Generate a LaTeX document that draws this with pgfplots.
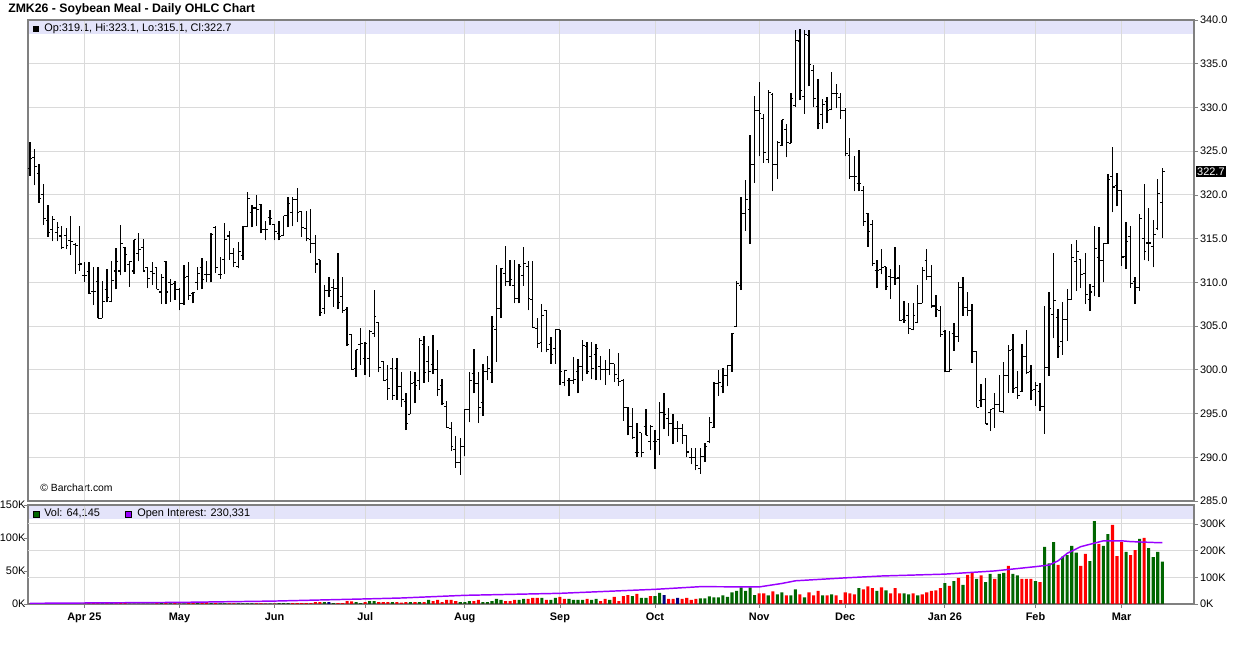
\documentclass[border=0pt]{standalone}
\usepackage{pgfplots}
\pgfplotsset{compat=1.18}
\usepackage{pgfplotstable}
\usepackage{fontspec}
\setmainfont{Liberation Sans}
\definecolor{volgreen}{RGB}{0,102,0}
\definecolor{volred}{RGB}{255,0,0}
\definecolor{volnavy}{RGB}{0,0,128}
\definecolor{oipurple}{RGB}{153,0,255}
\definecolor{stripc}{RGB}{228,228,250}
\definecolor{gridc}{RGB}{218,218,218}
\definecolor{framec}{RGB}{128,128,128}
\pgfdeclareplotmark{otick}{\pgfpathmoveto{\pgfqpoint{-1.7pt}{0pt}}\pgfpathlineto{\pgfqpoint{0pt}{0pt}}\pgfusepathqstroke}
\pgfdeclareplotmark{ctick}{\pgfpathmoveto{\pgfqpoint{0pt}{0pt}}\pgfpathlineto{\pgfqpoint{1.7pt}{0pt}}\pgfusepathqstroke}

\pgfplotstableread{
i o h l c
0 323.0 326.1 322.2 324.2
1 324.3 325.3 321.1 323.3
2 322.4 323.5 319.1 319.6
3 320.0 321.3 316.6 317.3
4 317.1 318.8 315.2 315.7
5 316.0 317.6 314.7 317.2
6 315.7 316.9 314.7 316.3
7 315.3 316.4 313.8 314.0
8 315.4 316.2 313.8 314.2
9 314.8 317.6 313.1 314.7
10 314.3 314.5 311.0 314.2
11 312.0 316.4 311.3 312.1
12 310.8 312.3 310.0 310.8
13 311.2 312.3 308.7 308.7
14 309.0 311.8 307.4 309.0
15 310.1 311.8 305.9 305.9
16 305.9 310.1 305.9 307.8
17 309.2 311.5 307.7 308.3
18 307.8 312.4 307.7 310.2
19 311.3 313.9 309.2 312.4
20 311.3 316.6 310.8 314.4
21 314.0 314.0 311.2 313.2
22 312.0 312.4 309.5 312.4
23 311.3 314.9 311.0 314.9
24 313.3 315.7 312.4 313.8
25 314.0 315.0 311.3 311.3
26 311.7 311.8 309.3 310.4
27 311.2 312.3 309.7 311.0
28 311.7 311.8 309.2 309.2
29 308.9 311.0 307.5 310.6
30 312.4 312.4 307.5 308.9
31 310.0 310.4 307.8 309.8
32 309.9 310.1 308.0 309.2
33 309.2 309.3 306.8 307.6
34 307.6 312.0 307.4 310.6
35 310.7 312.3 308.0 308.5
36 308.7 308.9 307.6 308.8
37 310.0 311.8 309.1 311.0
38 311.7 312.8 309.2 310.3
39 310.9 312.4 310.0 310.9
40 310.9 315.6 310.0 315.5
41 316.3 316.5 311.1 311.7
42 310.9 312.9 310.4 310.9
43 312.6 316.8 311.0 314.9
44 315.3 315.9 312.6 313.3
45 313.3 313.9 311.7 312.3
46 311.8 314.6 311.6 313.5
47 313.1 316.4 312.6 316.4
48 316.4 320.3 316.3 319.6
49 318.0 318.9 316.3 318.5
50 318.5 320.0 316.5 318.3
51 318.9 319.0 315.6 316.0
52 316.0 317.0 314.8 316.0
53 317.4 318.3 316.6 317.3
54 316.6 316.7 314.8 315.8
55 315.6 317.0 314.8 315.2
56 315.4 317.6 315.4 317.6
57 317.6 319.8 316.3 319.0
58 318.0 319.8 316.4 319.5
59 319.5 320.8 316.9 318.0
60 318.1 318.2 315.2 316.3
61 316.2 318.2 314.7 315.0
62 314.9 318.4 313.3 314.4
63 314.4 315.4 311.1 312.1
64 312.6 312.6 306.2 306.6
65 307.0 309.7 306.4 309.1
66 309.1 310.6 308.3 309.1
67 309.4 310.4 307.2 309.3
68 309.3 313.4 306.9 307.7
69 308.4 310.6 306.5 306.8
70 306.9 307.2 302.7 302.9
71 304.0 304.0 300.0 300.0
72 300.1 302.3 299.2 302.3
73 302.9 304.8 300.6 303.0
74 301.3 303.2 299.4 303.0
75 301.3 304.6 299.2 304.4
76 304.1 309.1 303.8 306.1
77 305.4 305.4 299.7 300.3
78 300.9 301.0 298.7 298.8
79 298.9 300.5 296.6 297.9
80 300.2 301.3 296.6 297.1
81 300.2 301.3 296.6 298.1
82 298.1 299.8 295.8 296.6
83 296.4 297.4 293.1 293.9
84 294.9 299.9 294.9 298.4
85 298.6 299.7 296.2 298.2
86 298.8 303.6 297.7 303.3
87 302.9 303.9 298.5 299.7
88 301.0 302.7 298.6 299.8
89 300.6 304.0 299.5 300.0
90 300.0 302.3 297.0 297.7
91 298.2 298.9 296.0 296.1
92 295.8 296.4 293.4 293.4
93 293.3 294.0 290.7 291.2
94 290.9 292.4 288.8 289.4
95 289.4 292.2 288.0 291.2
96 291.2 295.5 290.1 295.5
97 295.5 299.7 294.0 298.8
98 299.6 302.4 297.3 298.4
99 298.4 299.8 293.9 295.7
100 296.3 300.7 294.7 299.8
101 299.8 301.6 298.8 300.2
102 299.7 306.2 298.5 304.9
103 304.6 312.0 300.9 307.0
104 307.0 311.6 305.9 311.6
105 311.0 314.2 309.6 310.1
106 310.1 312.5 309.6 310.3
107 309.6 312.5 307.6 308.2
108 308.2 312.1 307.6 311.8
109 310.8 314.0 309.6 312.2
110 311.8 312.4 306.8 308.2
111 308.0 312.4 304.8 304.8
112 304.7 305.9 302.5 303.0
113 303.1 307.5 302.0 306.2
114 306.8 306.8 302.0 302.3
115 302.9 303.7 300.7 301.7
116 302.4 304.6 300.7 304.6
117 304.6 304.6 298.3 299.8
118 298.6 300.0 298.1 299.9
119 298.8 299.1 297.0 298.8
120 298.8 301.5 298.4 298.9
121 299.8 301.2 297.3 300.4
122 300.4 303.4 298.7 302.8
123 302.7 303.2 299.5 299.8
124 301.5 303.2 298.9 300.2
125 301.8 302.9 298.8 302.4
126 300.4 301.6 298.8 300.0
127 300.0 301.1 298.3 300.0
128 300.0 302.4 299.4 300.7
129 300.7 300.7 298.6 299.5
130 299.0 301.9 298.2 298.7
131 298.8 298.9 294.2 295.7
132 295.7 295.8 292.5 293.5
133 293.5 295.6 292.1 292.3
134 290.5 293.9 290.0 290.5
135 292.8 292.8 290.0 290.5
136 293.5 295.5 292.5 292.5
137 291.8 293.7 290.8 293.5
138 291.8 293.1 288.7 291.8
139 292.0 296.3 290.3 295.1
140 295.1 297.4 293.2 294.9
141 294.4 295.6 292.4 293.9
142 293.9 294.9 291.5 293.3
143 293.3 294.2 291.8 293.3
144 293.3 293.8 291.5 292.5
145 292.5 292.5 290.0 290.6
146 290.0 291.1 289.2 290.0
147 290.0 291.1 288.5 289.1
148 288.7 291.1 288.1 290.1
149 290.1 291.6 289.5 291.2
150 291.8 294.6 291.6 294.0
151 293.4 298.6 293.4 298.4
152 298.4 300.0 297.0 298.5
153 298.1 300.2 297.3 299.4
154 299.4 300.5 298.1 300.5
155 300.5 304.2 299.8 304.2
156 305.0 310.1 305.0 309.9
157 309.6 319.8 309.1 317.9
158 317.9 321.7 315.9 319.5
159 318.3 326.8 314.4 323.5
160 323.5 331.3 321.4 329.6
161 329.6 332.9 324.4 329.3
162 328.7 329.3 323.7 324.9
163 324.1 332.0 323.6 331.7
164 331.5 331.6 320.4 323.5
165 323.5 326.2 321.8 326.0
166 325.6 328.6 325.6 328.6
167 327.5 328.1 324.3 326.0
168 325.9 331.7 325.9 331.0
169 330.2 338.8 330.1 337.7
170 337.6 339.0 330.8 331.9
171 331.3 338.9 329.3 338.3
172 338.2 338.9 332.4 334.9
173 334.2 334.9 330.0 331.0
174 330.1 333.2 327.5 328.2
175 329.2 331.0 327.5 330.3
176 330.7 331.2 328.2 329.7
177 329.8 334.1 329.7 331.6
178 331.6 332.7 329.9 331.6
179 331.1 331.7 328.7 329.7
180 329.7 329.9 324.4 324.7
181 324.5 326.5 321.8 322.1
182 322.1 324.4 320.4 322.1
183 321.3 325.1 320.4 321.3
184 320.5 321.0 316.5 317.0
185 317.9 317.9 314.1 315.8
186 316.6 317.1 311.9 312.2
187 311.4 312.5 309.3 311.4
188 311.5 313.8 310.9 311.7
189 311.8 311.8 309.1 309.5
190 310.7 311.5 308.1 310.6
191 310.6 314.0 309.7 310.4
192 310.5 312.0 305.6 305.6
193 305.7 307.9 305.4 305.6
194 306.2 307.6 304.1 304.7
195 304.6 307.6 304.5 306.2
196 305.4 309.7 305.3 307.6
197 307.6 311.7 307.6 311.4
198 312.5 313.8 310.3 310.7
199 310.7 312.0 307.1 307.3
200 307.3 308.6 306.0 306.9
201 306.8 307.3 303.8 304.0
202 304.4 304.5 299.7 299.8
203 299.8 304.4 299.7 300.0
204 304.2 305.4 302.2 303.8
205 303.8 310.0 303.2 309.4
206 309.4 310.6 306.2 307.1
207 307.1 308.9 306.2 306.8
208 306.8 307.5 300.8 302.1
209 302.1 302.1 295.7 295.7
210 296.5 298.4 295.7 296.6
211 296.6 299.1 293.8 293.8
212 295.1 295.5 293.0 295.5
213 295.6 297.4 293.4 296.0
214 296.0 299.4 295.2 295.2
215 295.2 300.9 295.1 299.4
216 299.4 302.8 297.4 302.2
217 302.3 304.1 297.4 297.9
218 298.0 299.9 296.7 297.1
219 297.5 303.0 297.5 301.5
220 301.5 304.5 299.5 299.7
221 299.8 300.6 296.5 297.6
222 297.8 298.6 295.9 298.2
223 297.5 298.5 295.3 295.8
224 295.8 307.3 292.7 300.3
225 300.3 308.9 299.3 307.0
226 306.3 313.3 303.6 307.9
227 306.0 306.9 301.4 302.7
228 303.2 307.7 301.7 305.8
229 305.8 309.2 303.3 308.0
230 308.0 314.4 308.0 312.8
231 312.4 314.9 309.0 313.5
232 312.6 312.7 309.3 310.9
233 311.0 313.3 307.5 308.6
234 308.0 309.8 306.7 308.9
235 309.5 316.5 308.4 313.9
236 312.8 316.3 308.3 312.5
237 312.5 314.5 310.0 314.4
238 314.4 322.4 314.4 321.8
239 322.1 325.5 318.0 320.9
240 321.1 322.5 318.7 320.5
241 320.5 320.5 311.9 312.9
242 313.0 316.9 311.5 314.7
243 315.2 316.5 309.4 309.9
244 310.1 310.6 307.5 309.4
245 309.4 317.8 309.0 317.3
246 315.0 321.3 312.5 313.5
247 314.5 318.5 312.4 314.5
248 314.1 317.1 311.7 315.5
249 316.2 321.8 316.0 320.2
250 319.1 323.1 315.1 322.7
}\ohlc

% volume in thousands; c: 0 green, 1 red, 2 navy
\pgfplotstableread{
i v c
0 0.3 0
1 0.3 1
2 0.3 1
3 0.3 1
4 0.3 1
5 0.3 0
6 0.3 0
7 0.3 1
8 0.3 1
9 0.3 1
10 0.3 1
11 0.3 0
12 0.4 1
13 1.2 1
14 1.2 1
15 1.4 1
16 1.0 0
17 1.2 1
18 1.2 0
19 1.4 1
20 1.2 1
21 1.2 1
22 0.3 0
23 0.3 0
24 0.3 1
25 0.3 1
26 0.3 1
27 0.3 0
28 1.2 1
29 1.2 0
30 1.2 1
31 1.0 0
32 1.2 1
33 0.4 1
34 0.4 0
35 1.5 1
36 1.5 1
37 3.0 0
38 2.0 1
39 3.0 1
40 1.5 0
41 1.5 1
42 1.0 0
43 0.8 0
44 1.0 1
45 1.0 1
46 1.0 0
47 1.0 0
48 1.0 0
49 1.0 0
50 1.0 1
51 0.8 1
52 0.5 1
53 0.5 0
54 0.5 1
55 1.5 0
56 1.5 0
57 1.5 0
58 1.5 1
59 1.5 1
60 1.5 1
61 1.5 1
62 1.5 1
63 3.0 1
64 3.0 1
65 3.0 0
66 3.0 2
67 1.5 0
68 1.5 1
69 1.5 1
70 4.5 1
71 4.0 1
72 3.0 0
73 1.5 0
74 3.0 1
75 4.5 0
76 4.5 0
77 3.0 1
78 3.0 1
79 3.0 1
80 3.0 0
81 3.0 1
82 2.0 1
83 3.0 1
84 3.0 0
85 3.0 1
86 3.0 0
87 3.0 1
88 6.1 0
89 4.5 1
90 6.1 1
91 3.0 1
92 6.1 1
93 6.1 1
94 4.5 1
95 3.0 0
96 3.0 0
97 4.5 0
98 4.5 1
99 6.1 1
100 3.0 0
101 3.0 0
102 4.5 0
103 7.6 0
104 6.1 0
105 4.5 1
106 4.5 1
107 6.1 1
108 6.1 0
109 7.6 0
110 7.6 1
111 9.1 1
112 9.1 1
113 9.1 0
114 6.1 1
115 6.1 0
116 9.1 0
117 10.6 1
118 7.6 1
119 7.6 0
120 6.1 0
121 6.1 0
122 6.1 0
123 7.6 1
124 6.1 0
125 7.6 0
126 4.5 1
127 7.6 1
128 6.1 0
129 10.6 1
130 4.5 1
131 12.1 1
132 13.6 1
133 12.1 0
134 15.2 1
135 9.1 0
136 9.1 0
137 12.1 1
138 12.1 0
139 16.7 0
140 13.6 2
141 7.6 1
142 7.6 1
143 9.1 2
144 7.6 1
145 9.1 1
146 6.1 1
147 7.6 1
148 8.6 0
149 8.6 0
150 11.6 0
151 10.0 0
152 10.0 0
153 13.0 0
154 10.6 0
155 17.7 0
156 19.7 0
157 25.0 0
158 19.7 0
159 25.0 0
160 13.6 0
161 16.0 1
162 16.0 1
163 13.0 0
164 19.0 1
165 14.6 0
166 17.7 0
167 13.0 1
168 13.0 0
169 22.0 0
170 14.6 1
171 10.0 0
172 17.7 1
173 13.0 1
174 19.7 1
175 13.0 0
176 13.0 1
177 14.6 0
178 13.0 1
179 6.0 1
180 17.7 1
181 16.0 1
182 14.6 1
183 24.0 0
184 22.0 1
185 26.8 1
186 24.0 1
187 19.7 0
188 25.0 1
189 20.7 0
190 16.0 1
191 24.0 1
192 16.0 1
193 16.0 0
194 14.6 0
195 16.0 1
196 13.0 0
197 14.6 1
198 17.7 1
199 19.7 1
200 20.7 1
201 24.0 1
202 31.8 0
203 27.3 1
204 34.8 0
205 39.4 1
206 28.8 0
207 44.0 1
208 47.0 1
209 37.9 0
210 43.4 1
211 33.3 0
212 45.5 0
213 37.9 1
214 45.5 0
215 47.0 0
216 57.6 1
217 45.5 0
218 43.4 0
219 37.9 1
220 37.9 1
221 37.9 1
222 34.8 0
223 33.3 1
224 86.4 0
225 61.6 0
226 93.9 0
227 59.1 1
228 71.7 0
229 74.2 0
230 87.9 0
231 77.8 0
232 57.6 1
233 75.8 1
234 65.0 0
235 125.7 0
236 90.9 1
237 87.9 0
238 106.0 0
239 119.7 1
240 72.7 1
241 93.9 1
242 78.8 0
243 74.2 1
244 81.8 1
245 98.5 0
246 100.0 1
247 84.8 0
248 71.2 0
249 78.8 0
250 64.1 0
}\vol

% open interest in thousands
\pgfplotstableread{
i oi
0 2.5
33 6
54 11
74 19
82 22.5
96 32.5
117 40
138 55
148 65
161 64
166 77
169 87
180 98
188 105
202 112
213 124
222 140
225 146
227 162
229 190
232 215
237 237
241 237
243 234
249 230
250 230.3
}\oi

\begin{document}
\begin{tikzpicture}[x=0.75pt,y=0.75pt]
\path[use as bounding box] (0,0) rectangle (1236,645);
% header strips
\fill[stripc] (28,611) rectangle (1194,625);
\fill[stripc] (28,126) rectangle (1194,140);
% title
\node[anchor=base west, inner sep=0pt, font=\bfseries\fontsize{9.2}{11}\selectfont] at (8,632) {ZMK26 - Soybean Meal - Daily OHLC Chart};
% main legend
\fill[black] (33,613) rectangle (39,619);
\node[anchor=base west, inner sep=0pt, font=\fontsize{8.2}{10}\selectfont] at (44,613.5) {Op:319.1, Hi:323.1, Lo:315.1, Cl:322.7};
% volume legend
\fill[volgreen] (33,128) rectangle (39,134);
\draw[black, line width=0.3pt] (33,128) rectangle (39,134);
\node[anchor=base west, inner sep=0pt, font=\fontsize{8.2}{10}\selectfont] at (44,128.5) {Vol: 64,145};
\fill[oipurple] (125,128) rectangle (131,134);
\draw[black, line width=0.3pt] (125,128) rectangle (131,134);
\node[anchor=base west, inner sep=0pt, font=\fontsize{8.2}{10}\selectfont] at (137,128.5) {Open Interest: 230,331};
\node[anchor=base west, inner sep=0pt, font=\fontsize{7.8}{10}\selectfont] at (40,153) {\textcopyright{} Barchart.com};

% ---------- price panel ----------
\begin{axis}[
  at={(21pt,108pt)}, anchor=south west,
  width=874.5pt, height=360.75pt, scale only axis,
  xmin=-0.44, xmax=257, ymin=285, ymax=340,
  axis line style={framec, line width=0.8pt},
  xtick={12,33,54,74,96,117,138,161,180,202,222,241},
  xticklabels={},
  major x tick style={draw=none},
  ytick={285,290,295,300,305,310,315,320,325,330,335,340},
  yticklabels={285.0,290.0,295.0,300.0,305.0,310.0,315.0,320.0,325.0,330.0,335.0,340.0},
  ytick pos=right, yticklabel pos=right, ytick align=outside,
  major tick length=3pt,
  major y tick style={framec, line width=0.6pt},
  grid=major, grid style={gridc, line width=0.75pt},
  ticklabel style={font=\fontsize{8.2}{10}\selectfont},
  yticklabel style={xshift=-2pt},
  clip=false,
]
\addplot[draw=none, mark=none, forget plot,
  error bars/.cd, y dir=plus, y explicit, error mark=none,
  error bar style={draw=black, line width=1pt}]
  table[x=i, y=l, y error expr=\thisrow{h}-\thisrow{l}] {\ohlc};
\addplot[only marks, mark=otick, mark options={black, line width=0.8pt}] table[x=i, y=o] {\ohlc};
\addplot[only marks, mark=ctick, mark options={black, line width=0.8pt}] table[x=i, y=c] {\ohlc};
\node[fill=black, text=white, inner sep=1.2pt, anchor=west, font=\fontsize{8.2}{10}\selectfont] at (axis cs:257.3,322.7) {322.7};
\end{axis}

% ---------- volume panel ----------
\begin{axis}[
  at={(21pt,30.75pt)}, anchor=south west,
  width=874.5pt, height=74.25pt, scale only axis,
  xmin=-0.44, xmax=257, ymin=0, ymax=150,
  axis line style={framec, line width=0.8pt},
  xtick={12,33,54,74,96,117,138,161,180,202,222,241},
  xticklabels={Apr 25,May,Jun,Jul,Aug,Sep,Oct,Nov,Dec,Jan 26,Feb,Mar},
  xticklabel style={font=\bfseries\fontsize{8.2}{10}\selectfont},
  xtick pos=bottom, xtick align=outside,
  ytick={0,50,100,150}, yticklabels={0K,50K,100K,150K},
  ytick pos=left, ytick align=outside,
  yticklabel style={font=\fontsize{8.2}{10}\selectfont, anchor=east, xshift=4.6pt},
  major tick length=3pt,
  tick style={framec, line width=0.6pt},
  xmajorgrids, grid style={gridc, line width=0.75pt},
  extra y ticks={40.404,80.808,121.212}, extra y tick labels={},
  extra y tick style={ymajorgrids=true, major tick length=0pt},
]
\addplot[ybar, bar width=2.3pt, bar shift=0pt, fill=volgreen, draw=none] table[x=i, y expr={\thisrow{c}==0 ? \thisrow{v} : 0}] {\vol};
\addplot[ybar, bar width=2.3pt, bar shift=0pt, fill=volred, draw=none] table[x=i, y expr={\thisrow{c}==1 ? \thisrow{v} : 0}] {\vol};
\addplot[ybar, bar width=2.3pt, bar shift=0pt, fill=volnavy, draw=none] table[x=i, y expr={\thisrow{c}==2 ? \thisrow{v} : 0}] {\vol};
\end{axis}

% ---------- open interest (right scale) ----------
\begin{axis}[
  at={(21pt,30.75pt)}, anchor=south west,
  width=874.5pt, height=74.25pt, scale only axis,
  xmin=-0.44, xmax=257, ymin=0, ymax=371.25,
  hide x axis,
  axis y line*=right,
  axis line style={framec, line width=0.8pt},
  ytick={0,100,200,300}, yticklabels={0K,100K,200K,300K},
  ytick align=outside, major tick length=3pt,
  tick style={framec, line width=0.6pt},
  yticklabel style={font=\fontsize{8.2}{10}\selectfont, xshift=-2pt},
]
\addplot[oipurple, line width=1.1pt, mark=none] table[x=i, y=oi] {\oi};
\end{axis}
\end{tikzpicture}
\end{document}
